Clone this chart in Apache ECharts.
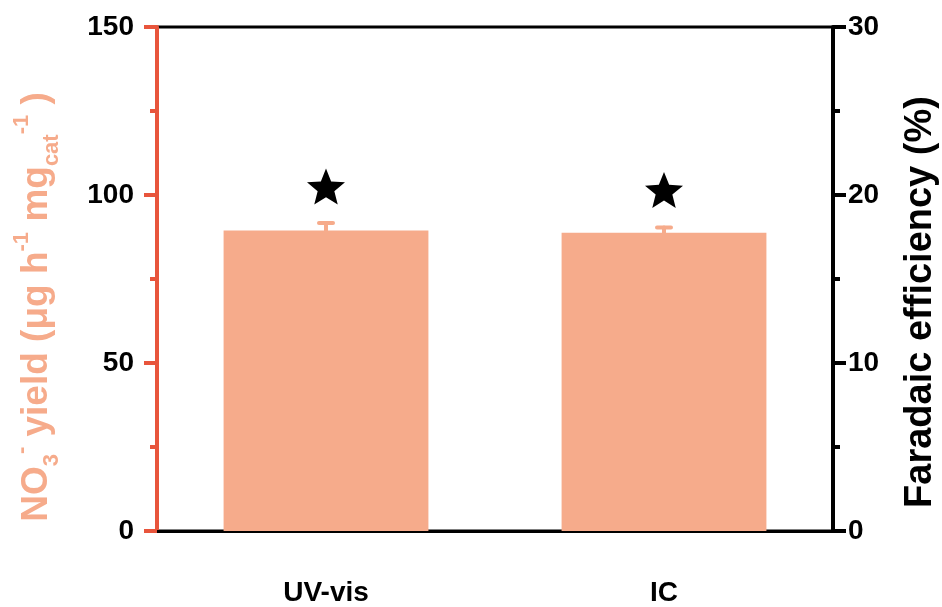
<!DOCTYPE html>
<html>
<head>
<meta charset="utf-8">
<script src="https://cdn.jsdelivr.net/npm/echarts@6/dist/echarts.min.js"></script>
<style>html,body{margin:0;padding:0;background:#fff}#c{width:942px;height:607px}</style>
</head>
<body>
<div id="c"></div>
<script>
const categories = ['UV-vis', 'IC'];
const yieldValues = [89.4, 88.8];
const yieldErrors = [2.3, 1.5];
const feValues = [20.5, 20.3];
const leftTicks = [0, 50, 100, 150];
const rightTicks = [0, 10, 20, 30];

const BAR = '#f6ab8b';
const AXRED = '#e8553c';
const FONT = '"Liberation Sans", Arial, sans-serif';
const STAR = 'path://M50,0 L62.9,32.2 L97.6,34.5 L70.9,56.8 L79.4,90.5 L50,72 L20.6,90.5 L29.1,56.8 L2.4,34.5 L37.1,32.2 Z';

const chart = echarts.init(document.getElementById('c'), null, {renderer: 'canvas'});
chart.setOption({
  animation: false,
  backgroundColor: '#fff',
  grid: {left: 157, right: 109, top: 27, bottom: 76, containLabel: false, outerBoundsMode: 'none',
         show: true, borderColor: '#000', borderWidth: 3, backgroundColor: 'transparent'},
  xAxis: {
    type: 'category', data: categories,
    axisLine: {lineStyle: {color: '#000', width: 3}},
    axisTick: {show: false},
    axisLabel: {color: '#000', fontFamily: FONT, fontWeight: 'bold', fontSize: 28, margin: 48}
  },
  yAxis: [{
    type: 'value', min: leftTicks[0], max: leftTicks[leftTicks.length - 1], interval: 50, position: 'left',
    axisLine: {show: true, lineStyle: {color: AXRED, width: 4}},
    axisTick: {show: true, length: 13, lineStyle: {color: AXRED, width: 4}},
    minorTick: {show: true, splitNumber: 2, length: 7, lineStyle: {color: AXRED, width: 4}},
    splitLine: {show: false},
    axisLabel: {color: '#000', fontFamily: FONT, fontWeight: 'bold', fontSize: 28, margin: 23},
    name: '{b|NO}{sub|3}{sup|-}{b| yield (μg h}{sup|-1}{b| mg}{sub|cat}{sup|-1}{b| )}',
    nameLocation: 'middle', nameRotate: 90, nameGap: 94,
    nameTextStyle: {
      padding: [0, 56, 0, 0],
      rich: {
        b: {color: BAR, fontFamily: FONT, fontWeight: 'bold', fontSize: 37, lineHeight: 52, verticalAlign: 'middle'},
        sub: {color: BAR, fontFamily: FONT, fontWeight: 'bold', fontSize: 22, lineHeight: 22, verticalAlign: 'bottom'},
        sup: {color: BAR, fontFamily: FONT, fontWeight: 'bold', fontSize: 22, lineHeight: 22, verticalAlign: 'top'}
      }
    }
  }, {
    type: 'value', min: rightTicks[0], max: rightTicks[rightTicks.length - 1], interval: 10, position: 'right',
    axisLine: {show: true, lineStyle: {color: '#000', width: 4}},
    axisTick: {show: true, length: 13, lineStyle: {color: '#000', width: 4}},
    minorTick: {show: true, splitNumber: 2, length: 7, lineStyle: {color: '#000', width: 4}},
    splitLine: {show: false},
    axisLabel: {color: '#000', fontFamily: FONT, fontWeight: 'bold', fontSize: 28, margin: 15},
    name: 'Faradaic efficiency (%)',
    nameLocation: 'middle', nameRotate: 90, nameGap: 69,
    nameTextStyle: {color: '#000', fontFamily: FONT, fontWeight: 'bold', fontSize: 38, padding: [0, 46, 0, 0]}
  }],
  series: [{
    type: 'bar', data: yieldValues, yAxisIndex: 0, barWidth: '60.6%',
    itemStyle: {color: BAR}, z: 2
  }, {
    type: 'custom', yAxisIndex: 0, z: 1,
    data: categories.map((c, i) => [i, yieldValues[i] - yieldErrors[i], yieldValues[i] + yieldErrors[i]]),
    renderItem: function (params, api) {
      const lo = api.coord([api.value(0), api.value(1)]);
      const hi = api.coord([api.value(0), api.value(2)]);
      const hw = 7;
      const st = {stroke: BAR, lineWidth: 4, lineCap: 'round'};
      return {type: 'group', children: [
        {type: 'line', shape: {x1: hi[0], y1: hi[1], x2: lo[0], y2: lo[1]}, style: st},
        {type: 'line', shape: {x1: hi[0] - hw, y1: hi[1], x2: hi[0] + hw, y2: hi[1]}, style: st},
        {type: 'line', shape: {x1: lo[0] - hw, y1: lo[1], x2: lo[0] + hw, y2: lo[1]}, style: st}
      ]};
    }
  }, {
    type: 'scatter', yAxisIndex: 1, data: feValues,
    symbol: STAR, symbolSize: [38, 36], itemStyle: {color: '#000', opacity: 1}, z: 3
  }]
});
</script>
</body>
</html>
